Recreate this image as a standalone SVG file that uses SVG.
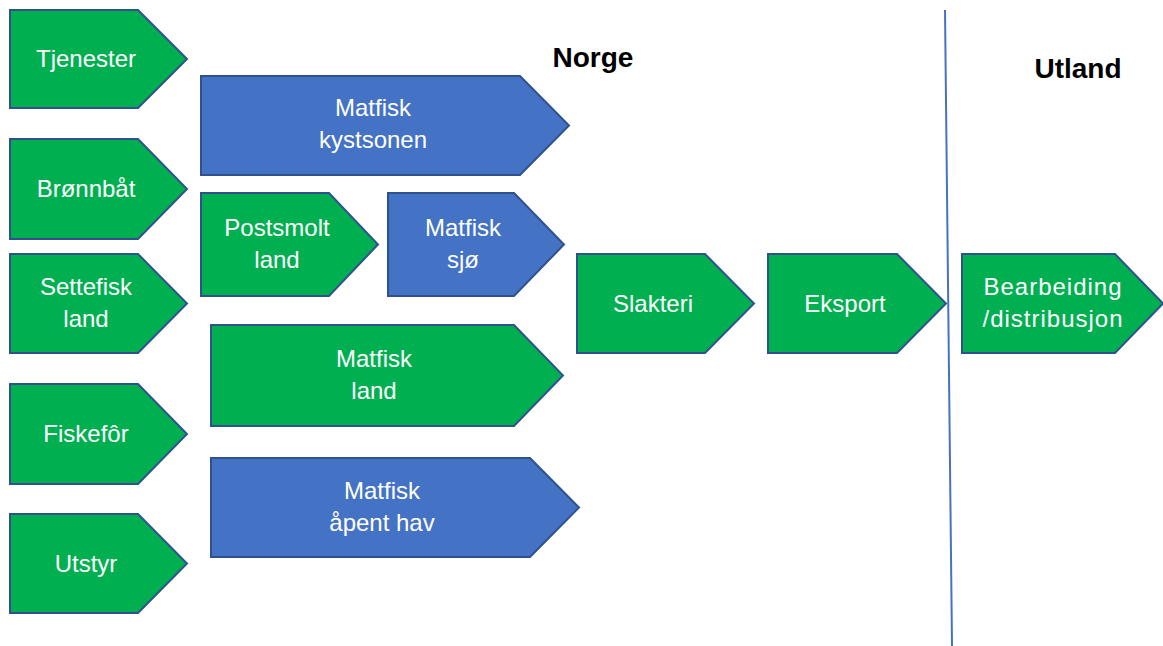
<svg xmlns="http://www.w3.org/2000/svg" width="1163" height="646" viewBox="0 0 1163 646">
  <style>
    .g { fill: #00B050; stroke: #2F528F; stroke-width: 2; stroke-linejoin: miter; }
    .b { fill: #4472C4; stroke: #2F528F; stroke-width: 2; stroke-linejoin: miter; }
    .t { font-family: "Liberation Sans", Arial, sans-serif; font-size: 24px; fill: #FFFFFF; text-anchor: middle; }
    .h { font-family: "Liberation Sans", Arial, sans-serif; font-size: 28px; font-weight: bold; fill: #000000; text-anchor: middle; }
    .div { fill: none; stroke: #4472C4; stroke-width: 2; }
  </style>
  <rect width="1163" height="646" fill="#FFFFFF"/>

  <g id="divider">
    <line class="div" x1="945" y1="10" x2="952" y2="646"/>
  </g>

  <g id="labels">
    <text class="h" x="593" y="67">Norge</text>
    <text class="h" x="1078" y="78">Utland</text>
  </g>

  <g id="node-tjenester">
    <polygon class="g" points="10,10 138,10 187,59 138,108 10,108"/>
    <text class="t" x="86" y="67">Tjenester</text>
  </g>
  <g id="node-bronnbat">
    <polygon class="g" points="10,139 138,139 187,189 138,239 10,239"/>
    <text class="t" x="86" y="197">Brønnbåt</text>
  </g>
  <g id="node-settefisk">
    <polygon class="g" points="10,254 138,254 187,303.5 138,353 10,353"/>
    <text class="t" x="86" y="295">Settefisk</text>
    <text class="t" x="86" y="327">land</text>
  </g>
  <g id="node-fiskefor">
    <polygon class="g" points="10,384 138,384 187,434 138,484 10,484"/>
    <text class="t" x="86" y="442">Fiskefôr</text>
  </g>
  <g id="node-utstyr">
    <polygon class="g" points="10,514 138,514 187,563.5 138,613 10,613"/>
    <text class="t" x="86" y="572">Utstyr</text>
  </g>

  <g id="node-matfisk-kystsonen">
    <polygon class="b" points="201,76 520,76 569,125.5 520,175 201,175"/>
    <text class="t" x="373" y="116">Matfisk</text>
    <text class="t" x="373" y="148">kystsonen</text>
  </g>
  <g id="node-postsmolt-land">
    <polygon class="g" points="201,193 329,193 378,244.5 329,296 201,296"/>
    <text class="t" x="277" y="236">Postsmolt</text>
    <text class="t" x="277" y="268">land</text>
  </g>
  <g id="node-matfisk-sjo">
    <polygon class="b" points="388,193 514,193 564,244.5 514,296 388,296"/>
    <text class="t" x="463" y="236">Matfisk</text>
    <text class="t" x="463" y="268">sjø</text>
  </g>
  <g id="node-matfisk-land">
    <polygon class="g" points="211,325 514,325 563,375.5 514,426 211,426"/>
    <text class="t" x="374" y="367">Matfisk</text>
    <text class="t" x="374" y="399">land</text>
  </g>
  <g id="node-matfisk-apent-hav">
    <polygon class="b" points="211,458 530,458 579,507.5 530,557 211,557"/>
    <text class="t" x="382" y="499">Matfisk</text>
    <text class="t" x="382" y="531">åpent hav</text>
  </g>

  <g id="node-slakteri">
    <polygon class="g" points="577,254 705,254 754,303.5 705,353 577,353"/>
    <text class="t" x="653" y="312">Slakteri</text>
  </g>
  <g id="node-eksport">
    <polygon class="g" points="768,254 897,254 946,303.5 897,353 768,353"/>
    <text class="t" x="845" y="312">Eksport</text>
  </g>
  <g id="node-bearbeiding">
    <polygon class="g" points="962,254 1115,254 1163,303.5 1115,353 962,353"/>
    <text class="t" x="1053" y="295" letter-spacing="1">Bearbeiding</text>
    <text class="t" x="1053" y="327" letter-spacing="1">/distribusjon</text>
  </g>
</svg>
